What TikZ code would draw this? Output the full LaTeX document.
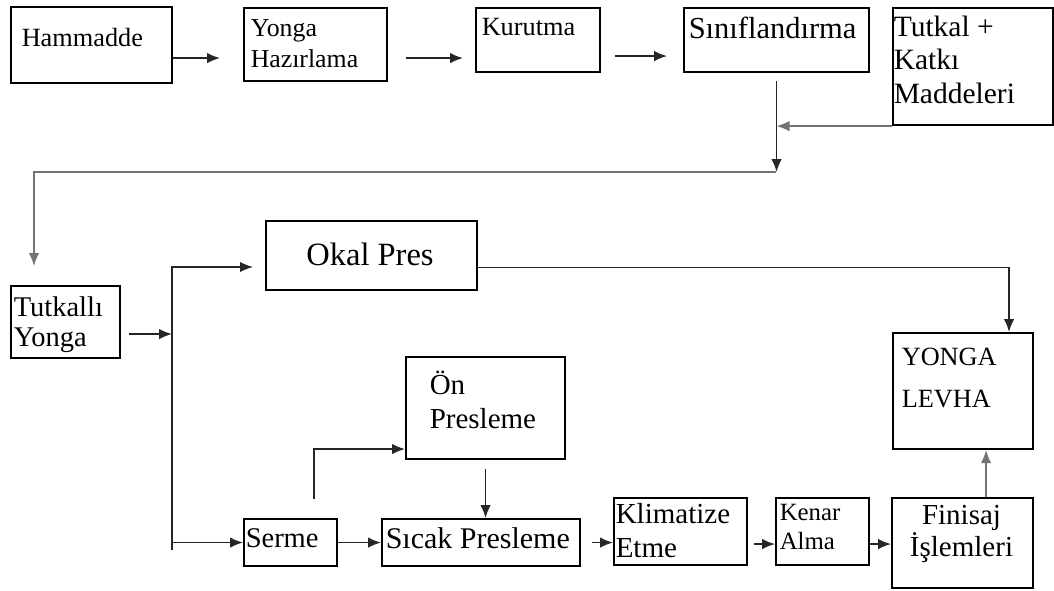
\documentclass[tikz,border=0pt]{standalone}
\usepackage{fontspec}
\setmainfont{Liberation Serif}
\usetikzlibrary{arrows.meta}
\newcommand{\fsz}[2]{\fontsize{#1}{#2}\selectfont}

\begin{document}
\begin{tikzpicture}[x=1pt,y=-1pt,line width=1.5pt,
  >={Latex[length=13pt,width=10.5pt]},
  box/.style={draw,line width=2.1pt,anchor=north west,inner sep=0pt},
  lbl/.style={anchor=north west,align=left,inner sep=0pt},
  flow/.style={->,draw=black!85},
  faint/.style={draw=black!55}]
 \useasboundingbox (0,0) rectangle (1054,590);
 \node[box,minimum width=161pt,minimum height=76pt] (hammadde) at (10,6) {};
 \node[box,minimum width=143pt,minimum height=73pt] (yonga) at (243,7) {};
 \node[box,minimum width=124pt,minimum height=64pt] (kurutma) at (475,7) {};
 \node[box,minimum width=185pt,minimum height=64pt] (sinif) at (683,7) {};
 \node[box,minimum width=160pt,minimum height=117pt] (tutkal) at (892,7) {};
 \node[box,minimum width=109pt,minimum height=72pt] (tyonga) at (10,285) {};
 \node[box,minimum width=211pt,minimum height=69pt] (okal) at (265,220) {};
 \node[box,minimum width=140pt,minimum height=116pt] (levha) at (892,332) {};
 \node[box,minimum width=159pt,minimum height=102pt] (onpres) at (405,356) {};
 \node[box,minimum width=93pt,minimum height=47pt] (serme) at (243,518) {};
 \node[box,minimum width=198pt,minimum height=47pt] (sicak) at (381,518) {};
 \node[box,minimum width=133pt,minimum height=67pt] (klima) at (613,497) {};
 \node[box,minimum width=93pt,minimum height=67pt] (kenar) at (775,497) {};
 \node[box,minimum width=141pt,minimum height=90pt] (finisaj) at (891,497) {};

 \node[lbl,font=\fsz{26.3}{31}] (hammadde-t) at (21,27.5) {Hammadde};
 \node[lbl,font=\fsz{25.8}{31}] (yonga-t) at (250,18.5) {Yonga\\Hazırlama};
 \node[lbl,font=\fsz{26.3}{31}] (kurutma-t) at (481,17.5) {Kurutma};
 \node[lbl,font=\fsz{30.5}{36}] (sinif-t) at (688,16) {Sınıflandırma};
 \node[lbl,font=\fsz{29.5}{33.5}] (tutkal-t) at (893,15) {Tutkal +\\Katkı\\Maddeleri};
 \node[lbl,font=\fsz{28.5}{30}] (tyonga-t) at (13,295.5) {Tutkallı\\Yonga};
 \node[lbl,anchor=north,font=\fsz{32.5}{38}] (okal-t) at (370,242.5) {Okal Pres};
 \node[lbl,font=\fsz{26.3}{42}] (levha-t) at (901,347.5) {YONGA\\LEVHA};
 \node[lbl,font=\fsz{29}{34}] (onpres-t) at (429,370) {Ön\\Presleme};
 \node[lbl,font=\fsz{28.5}{34}] (serme-t) at (245,528) {Serme};
 \node[lbl,font=\fsz{30}{34}] (sicak-t) at (385,526.5) {Sıcak Presleme};
 \node[lbl,font=\fsz{29}{34}] (klima-t) at (615,503) {Klimatize\\Etme};
 \node[lbl,font=\fsz{24.8}{29}] (kenar-t) at (779,503.5) {Kenar\\Alma};
 \node[lbl,anchor=north,align=center,font=\fsz{29}{32}] (finisaj-t) at (961.5,505) {Finisaj\\İşlemleri};

 \coordinate (merge) at (776,172);
 \coordinate (turn) at (34,172);
 \coordinate (bustop) at (172,267);
 \coordinate (busend) at (172,550);

 \draw[flow,shorten >=23pt] ([yshift=-13pt]hammadde.east) -- ([yshift=-13pt]hammadde.east -| yonga.west);
 \draw[flow,shorten <=18pt,shorten >=12pt] ([yshift=-13.5pt]yonga.east) -- ([yshift=-13.5pt]yonga.east -| kurutma.west);
 \draw[flow,shorten <=14pt,shorten >=16pt] ([yshift=-16pt]kurutma.east) -- ([yshift=-16pt]kurutma.east -| sinif.west);
 \draw[flow,shorten <=8pt] (sinif.south) -- (sinif.south |- merge);
 \draw[flow,faint] (tutkal.south west) -- (tutkal.south west -| sinif.south);
 \draw[flow,faint,shorten >=19pt] (merge) -- (turn) -- (turn |- tyonga.north);
 \draw[flow,shorten <=8pt] ([yshift=-12pt]tyonga.east) -- ([yshift=-12pt]tyonga.east -| bustop);
 \draw[flow,shorten >=12pt] (busend) -- (bustop) -- (bustop -| okal.west);
 \draw[flow] ([yshift=-12pt]okal.east) -| ([xshift=46pt]levha.north);
 \draw[flow] (busend |- serme.west) -- (serme.west);
 \draw[flow] (serme) -- (sicak);
 \draw[flow] ([xshift=23.5pt,yshift=19pt]serme.north) |- ([yshift=-41pt]onpres.west);
 \draw[flow,shorten <=9pt] (onpres.south) -- (onpres.south |- sicak.north);
 \draw[flow,shorten <=11pt] (sicak.east) -- (sicak.east -| klima.west);
 \draw[flow,shorten <=6pt] ([yshift=-12.5pt]klima.east) -- ([yshift=-12.5pt]klima.east -| kenar.west);
 \draw[flow] ([yshift=-12.5pt]kenar.east) -- ([yshift=-12.5pt]kenar.east -| finisaj.west);
 \draw[flow,faint] ([xshift=23.5pt]finisaj.north) -- ([xshift=23.5pt]finisaj.north |- levha.south);
\end{tikzpicture}
\end{document}
